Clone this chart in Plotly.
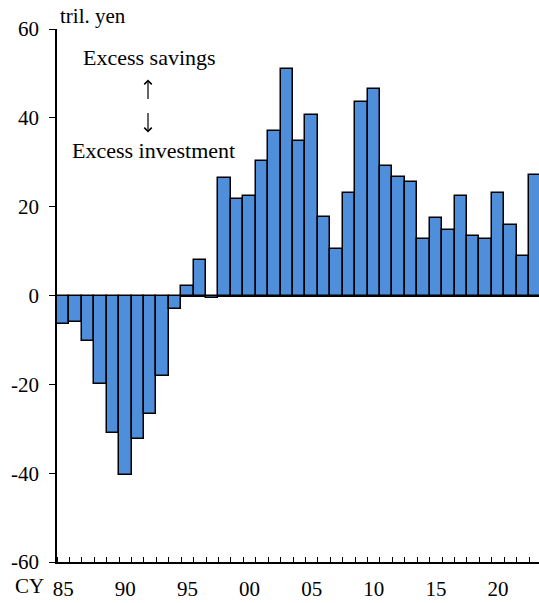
import plotly.graph_objects as go

years = list(range(1985, 2024))
values = [-6.5, -5.9, -10.2, -19.9, -31.0, -40.4, -32.3, -26.7, -18.1, -3.0,
          2.1, 7.9, -0.5, 26.4, 21.7, 22.3, 30.2, 37.1, 51.1, 34.7,
          40.6, 17.7, 10.5, 23.1, 43.6, 46.6, 29.2, 26.6, 25.5, 12.8,
          17.5, 14.7, 22.4, 13.4, 12.8, 23.0, 15.8, 8.9, 27.1]
x_tick_labels = ["85", "90", "95", "00", "05", "10", "15", "20"]
y_ticks = [-60, -40, -20, 0, 20, 40, 60]

idx = list(range(len(years)))
FONT = "Times New Roman, Liberation Serif, serif"

fig = go.Figure()
fig.add_trace(go.Bar(
    x=idx, y=values,
    marker=dict(color="#4F8EDB", line=dict(color="black", width=1.5)),
    width=1.0,
    hoverinfo="skip",
))

fig.update_layout(
    width=539, height=603,
    margin=dict(l=57, r=0, t=29, b=41, autoexpand=False),
    paper_bgcolor="white", plot_bgcolor="white",
    showlegend=False,
    bargap=0,
    font=dict(family=FONT, size=21, color="black"),
    xaxis=dict(
        range=[-0.5, 38.3],
        automargin=False,
        tickmode="array",
        tickvals=[0, 5, 10, 15, 20, 25, 30, 35],
        ticktext=x_tick_labels,
        ticks="",
        ticklabelstandoff=7,
        showline=True, linecolor="black", linewidth=1.5,
        showgrid=False, zeroline=False,
        minor=dict(ticks="inside", tick0=-0.5, dtick=1, ticklen=5,
                   tickcolor="black", tickwidth=1.2, showgrid=False),
        tickfont=dict(family=FONT, size=21, color="black"),
    ),
    yaxis=dict(
        range=[-60, 60],
        automargin=False,
        tickmode="array",
        tickvals=y_ticks,
        ticktext=[str(v) for v in y_ticks],
        ticks="outside", ticklen=6, tickwidth=1.2, tickcolor="black",
        ticklabelstandoff=6,
        showline=True, linecolor="black", linewidth=1.5,
        showgrid=False,
        zeroline=True, zerolinecolor="black", zerolinewidth=1.5,
        tickfont=dict(family=FONT, size=21, color="black"),
    ),
)

def px_to_paper(px, py):
    return (px - 57) / 482.0, (562.5 - py) / 533.0

annos = [
    ("tril. yen", 58, 17, "left", 21),
    ("Excess savings", 149, 58, "center", 22),
    ("Excess investment", 153, 151, "center", 22),
    ("CY", 46, 586, "right", 21),
]
for text, px, py, xa, size in annos:
    xp, yp = px_to_paper(px, py)
    fig.add_annotation(
        text=text, x=xp, y=yp, xref="paper", yref="paper",
        xanchor=xa, yanchor="middle", showarrow=False,
        font=dict(family=FONT, size=size, color="black"),
    )

# arrows: up arrow (tail 101 -> head 80), down arrow (tail 112 -> head 133)
for tail, head in [(101, 80), (112, 133)]:
    xh, yh = px_to_paper(148, head)
    fig.add_annotation(
        x=xh, y=yh, ax=0, ay=tail - head, xref="paper", yref="paper",
        axref="pixel", ayref="pixel", text="", showarrow=True,
        arrowhead=4, arrowsize=1.2, arrowwidth=1.2, arrowcolor="black",
    )

fig.write_html("out.html",
               config={"displayModeBar": False},
               post_script="document.body.style.margin='0';document.body.style.padding='0';")
